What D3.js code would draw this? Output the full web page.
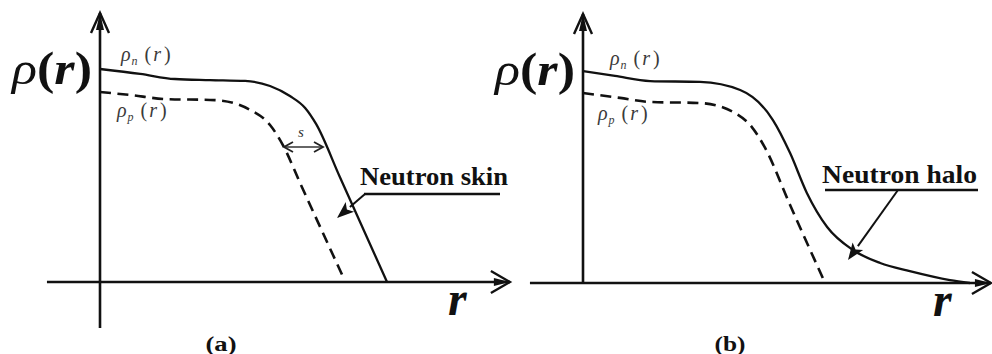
<!DOCTYPE html>
<html>
<head>
<meta charset="utf-8">
<script src="https://cdn.jsdelivr.net/npm/d3@7/dist/d3.min.js"></script>
<style>
  html, body { margin: 0; padding: 0; background: #fff; }
  svg { display: block; }
  text { font-family: "Liberation Serif", "DejaVu Serif", serif; }
</style>
</head>
<body>
<svg id="chart" width="992" height="354"></svg>
<script>
// ---------- data (r in arbitrary units, rho normalised) ----------
// Panel (a): neutron skin
const skinNeutronR   = [0, 1.03, 1.92, 2.82, 3.72, 4.36, 4.87, 5.26, 5.54, 6.15, 7.36];
const skinNeutronRho = [1.000, 0.977, 0.953, 0.948, 0.944, 0.920, 0.873, 0.817, 0.742, 0.493, 0];
const skinProtonR    = [0, 0.77, 1.67, 2.95, 3.85, 4.36, 4.69, 5.13, 6.21];
const skinProtonRho  = [0.892, 0.878, 0.859, 0.854, 0.808, 0.737, 0.643, 0.465, 0.033];
// Panel (b): neutron halo
const haloNeutronR   = [0, 0.82, 1.72, 3.00, 4.03, 4.87, 5.31, 5.74, 6.26, 6.92, 7.62, 8.38, 9.41, 9.92];
const haloNeutronRho = [0.995, 0.972, 0.948, 0.944, 0.906, 0.765, 0.610, 0.423, 0.263, 0.155, 0.094, 0.056, 0.014, 0];
const haloProtonR    = [0, 0.95, 1.72, 3.00, 3.90, 4.33, 4.67, 5.31, 6.15];
const haloProtonRho  = [0.892, 0.869, 0.850, 0.845, 0.798, 0.732, 0.634, 0.366, 0.023];

const panelLabels = ["(a)", "(b)"];
const annotations = ["Neutron skin", "Neutron halo"];

// ---------- drawing ----------
const svg = d3.select("#chart");
const ink = "#111";

function zip(a, b) { return a.map((v, i) => [v, b[i]]); }

function panel(cfg) {
  const x = d3.scaleLinear().domain([0, 10]).range([cfg.x0, cfg.x0 + 390]);
  const y = d3.scaleLinear().domain([0, 1]).range([cfg.y0, cfg.y0 - 213]);
  const g = svg.append("g");

  // axes
  g.append("line").attr("x1", x(cfg.rMin)).attr("x2", x(cfg.rMax))
    .attr("y1", y(0)).attr("y2", y(0)).attr("stroke", ink).attr("stroke-width", 2.6);
  g.append("line").attr("x1", x(0)).attr("x2", x(0))
    .attr("y1", y(cfg.rhoMin)).attr("y2", y(1.263)).attr("stroke", ink).attr("stroke-width", 2.6);

  // arrow heads (chevrons)
  const tx = x(cfg.rMax), ty = y(0);
  g.append("path").attr("d", `M${tx-19},${ty-11} L${tx},${ty} L${tx-19},${ty+11}`)
    .attr("fill", "none").attr("stroke", ink).attr("stroke-width", 2.4);
  g.append("path").attr("d", `M${tx-16},${ty-4} L${tx},${ty} L${tx-16},${ty+4} Z`).attr("fill", ink);
  const ux = x(0), uy = y(1.263);
  g.append("path").attr("d", `M${ux-9},${uy+20} L${ux},${uy} L${ux+9},${uy+20}`)
    .attr("fill", "none").attr("stroke", ink).attr("stroke-width", 2.4);
  g.append("path").attr("d", `M${ux-4},${uy+17} L${ux},${uy} L${ux+4},${uy+17} Z`).attr("fill", ink);

  const line = d3.line().x(d => x(d[0])).y(d => y(d[1])).curve(d3.curveMonotoneX);
  g.append("path").attr("d", line(zip(cfg.nR, cfg.nRho)))
    .attr("fill", "none").attr("stroke", ink).attr("stroke-width", 2.3);
  g.append("path").attr("d", line(zip(cfg.pR, cfg.pRho)))
    .attr("fill", "none").attr("stroke", ink).attr("stroke-width", 2.6)
    .attr("stroke-dasharray", "11,6.5");

  // big rho(r)
  const big = g.append("text").attr("x", x(0) - 88).attr("y", cfg.y0 - 198)
    .attr("font-size", 46).attr("fill", ink)
    .attr("textLength", 80).attr("lengthAdjust", "spacingAndGlyphs");
  big.append("tspan").attr("font-style", "italic").text("ρ");
  big.append("tspan").attr("font-weight", "bold").text("(");
  big.append("tspan").attr("font-weight", "bold").attr("font-style", "italic").text("r");
  big.append("tspan").attr("font-weight", "bold").text(")");

  // rho_n(r), rho_p(r)
  function small(xp, yp, sub) {
    const t = g.append("text").attr("x", xp).attr("y", yp).attr("font-size", 20)
      .attr("fill", "#3a3a3a").attr("font-style", "italic");
    t.append("tspan").text("ρ");
    t.append("tspan").attr("font-size", 12).attr("dx", 1).attr("dy", 4).attr("font-style", "italic").text(sub);
    t.append("tspan").attr("dx", 7).attr("dy", -4).attr("font-style", "normal").text("(");
    t.append("tspan").attr("dx", 2).text("r");
    t.append("tspan").attr("dx", 3).attr("font-style", "normal").text(")");
  }
  small(cfg.nLab[0], cfg.nLab[1], "n");
  small(cfg.pLab[0], cfg.pLab[1], "p");

  // r label
  g.append("text").attr("x", cfg.rLab[0]).attr("y", cfg.rLab[1])
    .attr("font-size", 48).attr("font-weight", "bold").attr("font-style", "italic")
    .attr("fill", ink).text("r");

  // panel label
  g.append("text").attr("x", cfg.pl[0]).attr("y", cfg.pl[1]).attr("text-anchor", "middle")
    .attr("font-size", 20).attr("font-weight", "bold").attr("fill", ink)
    .attr("textLength", 31).attr("lengthAdjust", "spacingAndGlyphs").text(cfg.plText);

  // annotation with leader
  g.append("text").attr("x", cfg.ann[0]).attr("y", cfg.ann[1])
    .attr("font-size", 25).attr("font-weight", "bold").attr("fill", ink)
    .attr("textLength", cfg.annW).attr("lengthAdjust", "spacingAndGlyphs").text(cfg.annText);
  g.append("line").attr("x1", cfg.ul[0]).attr("x2", cfg.ul[1]).attr("y1", cfg.ul[2]).attr("y2", cfg.ul[2])
    .attr("stroke", ink).attr("stroke-width", 2.6);
  const [sx, sy, ex, ey] = cfg.lead;
  const ang = Math.atan2(ey - sy, ex - sx);
  const L = 17, W = 6.5;
  const bx = ex - L * Math.cos(ang), by = ey - L * Math.sin(ang);
  g.append("line").attr("x1", sx).attr("y1", sy).attr("x2", bx).attr("y2", by)
    .attr("stroke", ink).attr("stroke-width", 2);
  g.append("path").attr("d",
    `M${ex},${ey} L${bx - W*Math.sin(ang)},${by + W*Math.cos(ang)} L${bx + 4*Math.cos(ang)},${by + 4*Math.sin(ang)} L${bx + W*Math.sin(ang)},${by - W*Math.cos(ang)} Z`)
    .attr("fill", ink);
  return {x, y, g};
}

const A = panel({
  x0: 100, y0: 282, rMin: -1.36, rMax: 10.51, rhoMin: -0.216,
  nR: skinNeutronR, nRho: skinNeutronRho, pR: skinProtonR, pRho: skinProtonRho,
  nLab: [121, 61], pLab: [117, 117], rLab: [448, 315], pl: [221, 351], plText: panelLabels[0],
  ann: [360, 185], annW: 148, annText: annotations[0], ul: [364, 500, 194],
  lead: [365, 194, 337, 218]
});
const B = panel({
  x0: 583, y0: 283, rMin: -1.36, rMax: 10.46, rhoMin: 0,
  nR: haloNeutronR, nRho: haloNeutronRho, pR: haloProtonR, pRho: haloProtonRho,
  nLab: [610, 65], pLab: [598, 120], rLab: [933, 316], pl: [730, 351], plText: panelLabels[1],
  ann: [822, 183], annW: 155, annText: annotations[1], ul: [825, 978, 190],
  lead: [898, 190, 848, 260]
});

// "s" gap marker in panel (a)
{
  const g = A.g, yS = 147;
  const xa = 284, xb = 323;
  g.append("line").attr("x1", xa).attr("x2", xb).attr("y1", yS).attr("y2", yS)
    .attr("stroke", "#333").attr("stroke-width", 1.3);
  g.append("path").attr("d", `M${xa+9},${yS-5} L${xa},${yS} L${xa+9},${yS+5}`)
    .attr("fill", "none").attr("stroke", "#222").attr("stroke-width", 1.8);
  g.append("path").attr("d", `M${xb-9},${yS-5} L${xb},${yS} L${xb-9},${yS+5}`)
    .attr("fill", "none").attr("stroke", "#222").attr("stroke-width", 1.8);
  g.append("text").attr("x", 298).attr("y", 137).attr("font-size", 15)
    .attr("font-style", "italic").attr("fill", "#333").text("s");
}
</script>
</body>
</html>
